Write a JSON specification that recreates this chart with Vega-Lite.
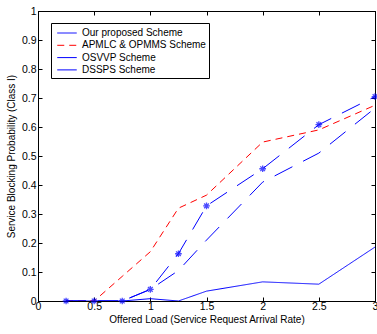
{
  "$schema": "https://vega.github.io/schema/vega-lite/v6.json",
  "autosize": {"type": "none"},
  "width": 337,
  "height": 290,
  "padding": {"left": 38, "top": 11, "right": 2, "bottom": 33},
  "background": "white",
  "config": {
    "font": "Liberation Sans",
    "view": {"stroke": "black", "strokeWidth": 1},
    "axis": {"grid": false, "domainColor": "black", "tickColor": "black", "labelColor": "black", "titleColor": "black", "labelFontSize": 10.5, "titleFontSize": 10, "titleFontWeight": "normal", "tickSize": -4, "domain": true}
  },
  "datasets": {
    "lines": [
      {"series": "Our proposed Scheme", "x": 0.25, "y": 0},
      {"series": "Our proposed Scheme", "x": 0.5, "y": 0},
      {"series": "Our proposed Scheme", "x": 0.75, "y": 0},
      {"series": "Our proposed Scheme", "x": 1, "y": 0.008},
      {"series": "Our proposed Scheme", "x": 1.25, "y": 0},
      {"series": "Our proposed Scheme", "x": 1.5, "y": 0.034},
      {"series": "Our proposed Scheme", "x": 2, "y": 0.066},
      {"series": "Our proposed Scheme", "x": 2.5, "y": 0.058},
      {"series": "Our proposed Scheme", "x": 3, "y": 0.186},
      {"series": "APMLC & OPMMS Scheme", "x": 0.25, "y": 0},
      {"series": "APMLC & OPMMS Scheme", "x": 0.5, "y": 0},
      {"series": "APMLC & OPMMS Scheme", "x": 0.75, "y": 0.085},
      {"series": "APMLC & OPMMS Scheme", "x": 1, "y": 0.17},
      {"series": "APMLC & OPMMS Scheme", "x": 1.25, "y": 0.32},
      {"series": "APMLC & OPMMS Scheme", "x": 1.5, "y": 0.365},
      {"series": "APMLC & OPMMS Scheme", "x": 2, "y": 0.548},
      {"series": "APMLC & OPMMS Scheme", "x": 2.5, "y": 0.59},
      {"series": "APMLC & OPMMS Scheme", "x": 3, "y": 0.675},
      {"series": "OSVVP Scheme", "x": 0.25, "y": 0},
      {"series": "OSVVP Scheme", "x": 0.5, "y": 0},
      {"series": "OSVVP Scheme", "x": 0.75, "y": 0},
      {"series": "OSVVP Scheme", "x": 1, "y": 0.04},
      {"series": "OSVVP Scheme", "x": 1.25, "y": 0.163},
      {"series": "OSVVP Scheme", "x": 1.5, "y": 0.328},
      {"series": "OSVVP Scheme", "x": 2, "y": 0.456},
      {"series": "OSVVP Scheme", "x": 2.5, "y": 0.608},
      {"series": "OSVVP Scheme", "x": 3, "y": 0.705},
      {"series": "DSSPS Scheme", "x": 0.25, "y": 0},
      {"series": "DSSPS Scheme", "x": 0.5, "y": 0},
      {"series": "DSSPS Scheme", "x": 0.75, "y": 0},
      {"series": "DSSPS Scheme", "x": 1, "y": 0.04},
      {"series": "DSSPS Scheme", "x": 1.25, "y": 0.105},
      {"series": "DSSPS Scheme", "x": 1.5, "y": 0.21},
      {"series": "DSSPS Scheme", "x": 2, "y": 0.41},
      {"series": "DSSPS Scheme", "x": 2.5, "y": 0.51},
      {"series": "DSSPS Scheme", "x": 3, "y": 0.665}
    ]
  },
  "data": {"name": "lines"},
  "layer": [
    {
      "mark": {"type": "line", "strokeWidth": 1, "clip": true},
      "encoding": {
        "x": {"field": "x", "type": "quantitative", "scale": {"domain": [0, 3], "nice": false, "zero": false}, "axis": {"title": "Offered Load (Service Request Arrival Rate)", "values": [0, 0.5, 1, 1.5, 2, 2.5, 3], "format": "~g", "labelPadding": 4, "titlePadding": 3, "labelFlush": false}},
        "y": {"field": "y", "type": "quantitative", "scale": {"domain": [0, 1], "nice": false}, "axis": {"title": "Service Blocking Probability (Class I)", "values": [0, 0.1, 0.2, 0.3, 0.4, 0.5, 0.6, 0.7, 0.8, 0.9, 1], "format": "~g", "labelPadding": 6, "titlePadding": 5, "labelFlush": false}},
        "color": {"field": "series", "type": "nominal", "scale": {"domain": ["Our proposed Scheme", "APMLC & OPMMS Scheme", "OSVVP Scheme", "DSSPS Scheme"], "range": ["#0000ff", "#ff0000", "#0000ff", "#0000ff"]},
          "legend": {"title": null, "orient": "none", "legendX": 13, "legendY": 12, "padding": 3, "strokeColor": "black", "fillColor": "white", "symbolType": "M-1.5,0H1.5", "symbolSize": 169, "symbolOffset": 6, "labelOffset": 8, "symbolStrokeWidth": 1, "labelFontSize": 10, "labelColor": "black", "rowPadding": 0.3, "cornerRadius": 0,
            "encode": {"symbols": {"update": {"strokeDash": {"signal": "datum.value === 'APMLC & OPMMS Scheme' ? [4, 3] : [1, 0]"}}}}}},
        "strokeDash": {"field": "series", "type": "nominal", "scale": {"domain": ["Our proposed Scheme", "APMLC & OPMMS Scheme", "OSVVP Scheme", "DSSPS Scheme"], "range": [[1, 0], [7, 5], [20, 12], [20, 12]]}, "legend": null}
      }
    },
    {
      "transform": [{"filter": "datum.series === 'OSVVP Scheme'"}],
      "mark": {"type": "point", "shape": "M-1,0H1M0,-1V1M-0.7,-0.7L0.7,0.7M-0.7,0.7L0.7,-0.7", "filled": false, "stroke": "#0000ff", "strokeWidth": 1.3, "size": 45, "clip": false},
      "encoding": {
        "x": {"field": "x", "type": "quantitative", "axis": {"orient": "top", "labels": false, "title": null, "values": [0, 0.5, 1, 1.5, 2, 2.5, 3]}},
        "y": {"field": "y", "type": "quantitative", "axis": {"orient": "right", "labels": false, "title": null, "values": [0, 0.1, 0.2, 0.3, 0.4, 0.5, 0.6, 0.7, 0.8, 0.9, 1]}}
      }
    }
  ],
  "resolve": {"axis": {"x": "independent", "y": "independent"}}
}
